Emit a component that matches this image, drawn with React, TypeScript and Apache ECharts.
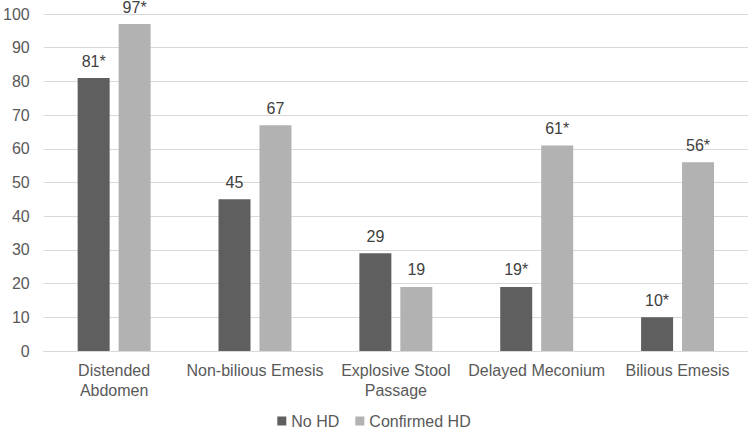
import React, { useEffect, useRef } from "react";
import * as echarts from "echarts";

const categories = ["Distended\nAbdomen", "Non-bilious Emesis", "Explosive Stool\nPassage", "Delayed Meconium", "Bilious Emesis"];
const noHD = [81, 45, 29, 19, 10];
const confirmedHD = [97, 67, 19, 61, 56];
const noHDLabels = ["81*", "45", "29", "19*", "10*"];
const confirmedHDLabels = ["97*", "67", "19", "61*", "56*"];

export default function App() {
  const ref = useRef<HTMLDivElement>(null);
  useEffect(() => {
    const chart = echarts.init(ref.current!, null, { renderer: "svg" });
    const font = "Liberation Sans, Arial, sans-serif";
    chart.setOption({
      animation: false,
      textStyle: { fontFamily: font },
      grid: { left: 40, right: 0, top: 14, bottom: 78, containLabel: false },
      legend: {
        bottom: 0,
        left: "center",
        padding: 0,
        itemWidth: 9,
        itemHeight: 9,
        itemGap: 16,
        icon: "rect",
        textStyle: { color: "#595959", fontSize: 16, fontFamily: font },
        data: ["No HD", "Confirmed HD"],
      },
      xAxis: {
        type: "category",
        data: categories,
        axisLine: { lineStyle: { color: "#d9d9d9" } },
        axisTick: { show: false },
        axisLabel: { color: "#595959", fontSize: 16, lineHeight: 20, margin: 9, interval: 0, fontFamily: font },
      },
      yAxis: {
        type: "value",
        min: 0,
        max: 100,
        interval: 10,
        axisLine: { show: false },
        axisTick: { show: false },
        axisLabel: { color: "#595959", fontSize: 16, margin: 14, fontFamily: font },
        splitLine: { lineStyle: { color: "#d9d9d9" } },
      },
      series: [
        {
          name: "No HD",
          type: "bar",
          data: noHD,
          barWidth: 32,
          barGap: "28%",
          itemStyle: { color: "#5f5f5f" },
          label: {
            show: true,
            position: "top",
            distance: 9,
            color: "#404040",
            fontSize: 16,
            fontFamily: font,
            formatter: (p: any) => noHDLabels[p.dataIndex],
          },
        },
        {
          name: "Confirmed HD",
          type: "bar",
          data: confirmedHD,
          barWidth: 32,
          itemStyle: { color: "#b2b2b2" },
          label: {
            show: true,
            position: "top",
            distance: 9,
            color: "#404040",
            fontSize: 16,
            fontFamily: font,
            formatter: (p: any) => confirmedHDLabels[p.dataIndex],
          },
        },
      ],
    });
    return () => chart.dispose();
  }, []);
  return <div ref={ref} style={{ width: 748, height: 429, position: "absolute", left: 0, top: 0 }} />;
}
